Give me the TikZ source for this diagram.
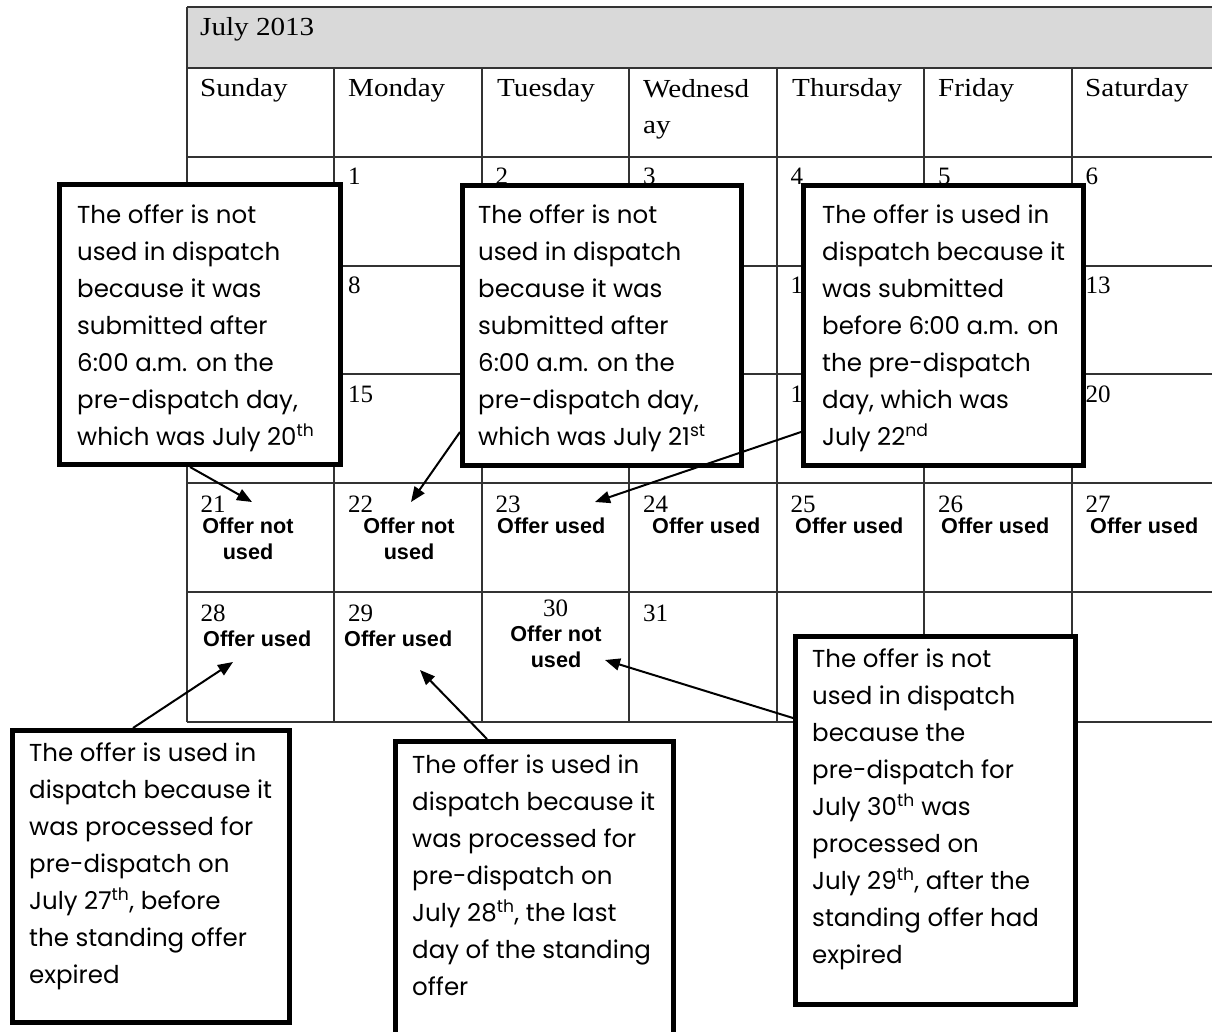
\documentclass[tikz,border=0pt]{standalone}
\usepackage{fontspec}
\setmainfont{Liberation Serif}
\newfontfamily\calfont[FakeStretch=1.12]{Liberation Serif}
\newfontfamily\numfont{Liberation Serif}
\newfontfamily\offfont{Liberation Sans}
\newfontfamily\notefont{Poppins}
\usetikzlibrary{arrows.meta,calc}
\definecolor{hdr}{HTML}{D9D9D9}
\definecolor{gridc}{HTML}{333333}
\tikzset{
  gridline/.style={draw=gridc,line width=1.3pt},
  hdrtext/.style={inner sep=0pt,anchor=base west,font=\calfont\fontsize{26}{36}\selectfont},
  daynum/.style={inner sep=0pt,anchor=base west,font=\numfont\fontsize{25}{30}\selectfont},
  offer/.style={inner sep=0pt,anchor=base west,font=\offfont\bfseries\fontsize{21.6}{26}\selectfont},
  offer2/.style={inner sep=0pt,anchor=north,align=center,font=\offfont\bfseries\fontsize{21.6}{26}\selectfont},
  callout/.style={draw=black,fill=white,line width=5pt,inner sep=0pt},
  notetext/.style={inner sep=0pt,anchor=north west,align=left,font=\notefont\fontsize{24.5}{37}\selectfont},
  conn/.style={draw=black,line width=2pt,-{Triangle[length=15pt,width=12pt]}}
}
\begin{document}
\begin{tikzpicture}[x=1pt,y=-1pt]
\useasboundingbox (0,0) rectangle (1212,1032);
\fill[white] (0,0) rectangle (1212,1032);
\clip (0,0) rectangle (1212,1032);
% calendar table
\fill[hdr] (187,7) rectangle (1219,68);
\foreach \yy in {7,68,157,266,374,483,592,722}
  \draw[gridline] (187,\yy) -- (1219,\yy);
\draw[gridline] (187,7) -- (187,722);
\draw[gridline] (1219,7) -- (1219,722);
\foreach \xx in {334,482,629,777,924,1072}
  \draw[gridline] (\xx,68) -- (\xx,722);
% header texts
\node[hdrtext] (title) at (200,36) {July 2013};
\node[hdrtext] (sun) at (200,97) {Sunday};
\node[hdrtext] (mon) at (348,97) {Monday};
\node[hdrtext] (tue) at (497,97) {Tuesday};
\node[hdrtext,anchor=north west,align=left] (wed) at (643,71.8) {\strut Wednesd\\ay};
\node[hdrtext] (thu) at (792,97) {Thursday};
\node[hdrtext] (fri) at (938,97) {Friday};
\node[hdrtext] (sat) at (1085,97) {Saturday};
% day numbers (only those left visible by the callouts)
\foreach \lab/\nm/\c/\yb in {1/d1/1/185,2/d2/2/185,3/d3/3/185,4/d4/4/185,5/d5/5/185,6/d6/6/185,
  8/d8/1/293.5,1/d11/4/293.5,13/d13/6/293.5,
  15/d15/1/402,1/d18/4/402,20/d20/6/402,
  21/d21/0/512,22/d22/1/512,23/d23/2/512,24/d24/3/512,25/d25/4/512,26/d26/5/512,27/d27/6/512,
  28/d28/0/621,29/d29/1/621,31/d31/3/621}
  \node[daynum] (\nm) at ({187+147.5*\c+13.5},\yb) {\lab};
\node[daynum,anchor=base] (d30) at (555.5,616) {30};
% offer labels
\node[offer2] (o21) at (248,515.3) {\strut Offer not\\used};
\node[offer2] (o22) at (409,515.3) {\strut Offer not\\used};
\node[offer] (o23) at (497,533.5) {Offer used};
\node[offer] (o24) at (652,533.5) {Offer used};
\node[offer] (o25) at (795,533.5) {Offer used};
\node[offer] (o26) at (941,533.5) {Offer used};
\node[offer] (o27) at (1090,533.5) {Offer used};
\node[offer] (o28) at (203,646) {Offer used};
\node[offer] (o29) at (344,646) {Offer used};
\node[offer2] (o30) at (556,622.8) {\strut Offer not\\used};
% callouts
\node[callout,minimum width=281pt,minimum height=280pt] (A) at (200,324.5) {};
\node[notetext] (Atext) at (77,197.1) {\strut The offer is not\\used in dispatch\\because it was\\submitted after\\6:00 a.m. on the\\pre-dispatch day,\\which was July 20\textsuperscript{th}};
\node[callout,minimum width=279pt,minimum height=280pt] (B) at (602,325.5) {};
\node[notetext] (Btext) at (478,197.1) {\strut The offer is not\\used in dispatch\\because it was\\submitted after\\6:00 a.m. on the\\pre-dispatch day,\\which was July 21\textsuperscript{st}};
\node[callout,minimum width=280pt,minimum height=280pt] (C) at (943.5,325.5) {};
\node[notetext] (Ctext) at (822,197.1) {\strut The offer is used in\\dispatch because it\\was submitted\\before 6:00 a.m. on\\the pre-dispatch\\day, which was\\July 22\textsuperscript{nd}};
\node[callout,minimum width=277pt,minimum height=292pt] (D) at (151,876.5) {};
\node[notetext] (Dtext) at (29,735.1) {\strut The offer is used in\\dispatch because it\\was processed for\\pre-dispatch on\\July 27\textsuperscript{th}, before\\the standing offer\\expired};
\node[callout,minimum width=278pt,minimum height=300.5pt] (E) at (534.5,891.75) {};
\node[notetext] (Etext) at (412,747.1) {\strut The offer is used in\\dispatch because it\\was processed for\\pre-dispatch on\\July 28\textsuperscript{th}, the last\\day of the standing\\offer};
\node[callout,minimum width=280pt,minimum height=368pt] (F) at (935.5,820.5) {};
\node[notetext] (Ftext) at (812,641.1) {\strut The offer is not\\used in dispatch\\because the\\pre-dispatch for\\July 30\textsuperscript{th} was\\processed on\\July 29\textsuperscript{th}, after the\\standing offer had\\expired};
% arrow targets
\coordinate (t21) at (252,502);
\coordinate (t22) at (411,502);
\coordinate (t23) at (595,502);
\coordinate (t28) at (233,662);
\coordinate (t29) at (420,670);
\coordinate (t30) at (605,660);
% connectors
\draw[conn] ([xshift=133pt]A.south west) -- (t21);
\draw[conn] ([yshift=-106.5pt]B.west) -- (t22);
\draw[conn] ([yshift=-106.5pt]C.west) -- (t23);
\draw[conn] ([xshift=-18pt]D.north) -- (t28);
\draw[conn] ([xshift=-47.5pt]E.north) -- (t29);
\draw[conn] ([yshift=102.5pt]F.west) -- (t30);
\end{tikzpicture}
\end{document}
